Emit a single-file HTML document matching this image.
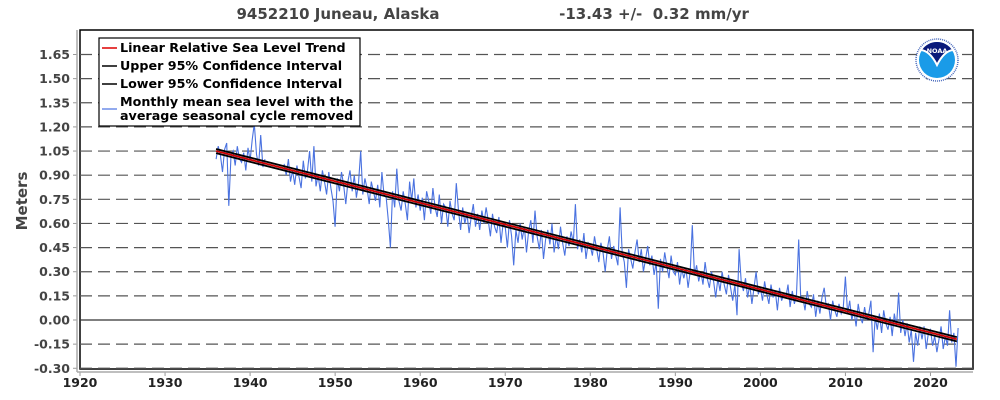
<!DOCTYPE html>
<html><head><meta charset="utf-8"><style>
body{margin:0;background:#fff}
svg{display:block;font-family:"DejaVu Sans","Liberation Sans",sans-serif}
</style></head><body>
<svg id="chart" width="1000" height="400">
<text x="338" y="19" font-size="15" font-weight="bold" fill="#444" text-anchor="middle">9452210 Juneau, Alaska</text>
<text x="654" y="19" font-size="15" font-weight="bold" fill="#444" text-anchor="middle" xml:space="preserve" style="white-space:pre">-13.43 +/-  0.32 mm/yr</text>
<text transform="translate(27,201) rotate(-90)" font-size="15" font-weight="bold" fill="#444" text-anchor="middle">Meters</text>
<g id="grid"></g><g id="series"></g><g id="axes"></g>
<g>
<rect x="99" y="38" width="261" height="88" fill="#fff" stroke="#000" stroke-width="1.2"/>
<line x1="102" x2="117" y1="48" y2="48" stroke="#d00" stroke-width="1.5"/>
<text x="120" y="52" font-size="12.7" font-weight="bold">Linear Relative Sea Level Trend</text>
<line x1="102" x2="117" y1="66" y2="66" stroke="#000" stroke-width="1.5"/>
<text x="120" y="70" font-size="12.7" font-weight="bold">Upper 95% Confidence Interval</text>
<line x1="102" x2="117" y1="84" y2="84" stroke="#000" stroke-width="1.5"/>
<text x="120" y="88" font-size="12.7" font-weight="bold">Lower 95% Confidence Interval</text>
<line x1="102" x2="117" y1="109" y2="109" stroke="#6d8ee8" stroke-width="1.5"/>
<text x="120" y="106" font-size="12.7" font-weight="bold">Monthly mean sea level with the</text>
<text x="120" y="120" font-size="12.7" font-weight="bold">average seasonal cycle removed</text>
</g>
<g>
<circle cx="937" cy="60" r="21" fill="#fff" stroke="#4466bb" stroke-width="1.5" stroke-dasharray="1 1"/>
<circle cx="937" cy="60" r="18" fill="#1a9be8"/>
<path d="M922,50 A18,18 0 0 1 952,50 Q944,52 937,64 Q930,52 922,50 Z" fill="#0a1a7a"/>
<path d="M921,50 Q930,51 937,65 Q944,51 953,50" fill="none" stroke="#fff" stroke-width="2"/>
<text x="937" y="53" font-size="6.5" font-weight="bold" fill="#fff" text-anchor="middle">NOAA</text>
</g>
</svg>
<script>
const yTicks=[-0.30,-0.15,0.00,0.15,0.30,0.45,0.60,0.75,0.90,1.05,1.20,1.35,1.50,1.65];
const xTicks=[1920,1930,1940,1950,1960,1970,1980,1990,2000,2010,2020];
const startYear=1936, stepYear=0.25;
const seaLevel=[
1.00,1.08,1.03,0.92, 1.06,1.10,0.71,1.02, 1.05,0.96,1.08,1.00, 0.98,1.04,0.93,1.07,
0.99,1.12,1.22,1.03, 0.96,1.15,0.95,1.00, null,null,null,null, null,null,null,null,
0.97,0.90,1.00,0.86, 0.93,0.84,0.96,0.89, 0.82,0.99,0.88,0.93, 1.05,0.86,1.08,0.83,
0.90,0.80,0.93,0.86, 0.78,0.92,0.82,0.74, 0.58,0.88,0.80,0.92, 0.84,0.72,0.86,0.93,
0.80,0.90,0.76,0.85, 1.05,0.78,0.88,0.82, 0.72,0.86,0.80,0.74, 0.84,0.70,0.92,0.78,
0.76,0.62,0.45,0.80, 0.70,0.94,0.74,0.68, 0.80,0.72,0.62,0.86, 0.74,0.88,0.70,0.78,
0.68,0.76,0.62,0.80, 0.74,0.66,0.82,0.70, 0.64,0.78,0.60,0.72, 0.70,0.58,0.74,0.66,
0.62,0.85,0.68,0.56, 0.70,0.60,0.66,0.54, 0.64,0.72,0.58,0.66, 0.56,0.68,0.60,0.70,
0.62,0.52,0.66,0.58, 0.54,0.64,0.48,0.60, 0.58,0.45,0.62,0.52, 0.34,0.56,0.48,0.60,
0.50,0.58,0.42,0.55, 0.62,0.48,0.68,0.52, 0.44,0.56,0.38,0.50, 0.56,0.47,0.60,0.42,
0.52,0.44,0.58,0.48, 0.40,0.52,0.46,0.55, 0.48,0.72,0.44,0.50, 0.42,0.54,0.38,0.48,
0.46,0.40,0.52,0.44, 0.36,0.48,0.42,0.30, 0.44,0.52,0.38,0.46, 0.40,0.34,0.70,0.42,
0.36,0.20,0.44,0.38, 0.32,0.42,0.50,0.36, 0.44,0.30,0.38,0.46, 0.34,0.40,0.28,0.36,
0.07,0.38,0.30,0.42, 0.34,0.26,0.40,0.30, 0.28,0.36,0.22,0.32, 0.26,0.32,0.20,0.30,
0.59,0.28,0.34,0.24, 0.30,0.22,0.36,0.26, 0.20,0.30,0.24,0.14, 0.26,0.18,0.30,0.22,
0.16,0.28,0.20,0.12, 0.22,0.03,0.44,0.24, 0.18,0.26,0.14,0.22, 0.10,0.20,0.30,0.16,
0.20,0.12,0.24,0.16, 0.10,0.22,0.14,0.18, 0.06,0.20,0.12,0.16, 0.14,0.22,0.08,0.18,
0.10,0.16,0.50,0.12, 0.14,0.06,0.18,0.10, 0.08,0.16,0.02,0.12, 0.04,0.14,0.20,0.08,
0.10,0.00,0.12,0.06, 0.02,0.10,0.04,0.08, 0.27,0.04,0.12,0.00, 0.06,-0.04,0.10,0.02,
-0.02,0.08,0.00,0.04, 0.12,-0.20,0.02,-0.06, 0.04,-0.08,0.06,-0.02, -0.06,0.02,-0.10,0.04,
-0.04,0.17,-0.08,0.00, -0.10,-0.02,-0.14,-0.06, -0.26,-0.08,-0.16,-0.04, -0.12,-0.04,-0.18,-0.08,
-0.06,-0.16,-0.10,-0.20, -0.12,-0.04,-0.18,-0.10, -0.16,0.06,-0.14,-0.08, -0.29,-0.05];
const trendStart=[1936,1.05], trendRatePerYear=-0.01343, trendEndYear=2023.1, ciHalf=0.013;

const NS='http://www.w3.org/2000/svg';
const X0=80,X1=973,Y0=30,Y1=369;
const xs=y=>X0+(y-1920)*(X1-X0)/105;
const ys=v=>320-v*(320-54.5)/1.65;
function mk(tag,attrs,parent){const e=document.createElementNS(NS,tag);for(const k in attrs)e.setAttribute(k,attrs[k]);parent.appendChild(e);return e;}
const grid=document.getElementById('grid'),axes=document.getElementById('axes'),series=document.getElementById('series');
mk('rect',{x:X0,y:Y0,width:X1-X0,height:Y1-Y0,fill:'#fff',stroke:'#000','stroke-width':1.5},grid);
yTicks.forEach(v=>{
  const y=ys(v);
  const g=mk('line',{x1:X0,x2:X1,y1:y,y2:y,stroke:Math.abs(v)<1e-9?'#333':'#555','stroke-width':1.2,'stroke-dasharray':Math.abs(v)<1e-9?'none':'12 6'},grid);
  
  
  mk('line',{x1:73,x2:77,y1:y,y2:y,stroke:'#999'},axes);
  const t=mk('text',{x:70,y:y+4.5,'font-size':12.5,'font-weight':'bold',fill:'#444','text-anchor':'end'},axes);
  t.textContent=v.toFixed(2);
  
  
});
xTicks.forEach(v=>{
  const x=xs(v);
  mk('line',{x1:x,x2:x,y1:372,y2:376,stroke:'#999'},axes);
  const t=mk('text',{x:x,y:387,'font-size':12.5,'font-weight':'bold',fill:'#222','text-anchor':'middle'},axes);
  t.textContent=v;
  
  
});
mk('line',{x1:77,x2:77,y1:Y0,y2:372,stroke:'#aaa','stroke-width':1.5},axes);
mk('line',{x1:77,x2:X1,y1:372,y2:372,stroke:'#aaa','stroke-width':1.5},axes);
let d='',pen=false;
seaLevel.forEach((v,i)=>{
  if(v===null){pen=false;return;}
  const yr=startYear+i*stepYear;
  d+=(pen?'L':'M')+xs(yr).toFixed(1)+','+ys(v).toFixed(1);pen=true;
});
const p=mk('path',{d:d,fill:'none',stroke:'#4a72e0','stroke-width':1.1},series);


const tv=y=>trendStart[1]+trendRatePerYear*(y-trendStart[0]);
[[ciHalf,'#000','upper-ci-line'],[-ciHalf,'#000','lower-ci-line'],[0,'#c00','trend-line']].forEach(([o,c,n])=>{
  const l=mk('line',{x1:xs(trendStart[0]),y1:ys(tv(trendStart[0])+o),x2:xs(trendEndYear),y2:ys(tv(trendEndYear)+o),stroke:c,'stroke-width':1.8},series);
  
  
});
</script>
</body></html>
